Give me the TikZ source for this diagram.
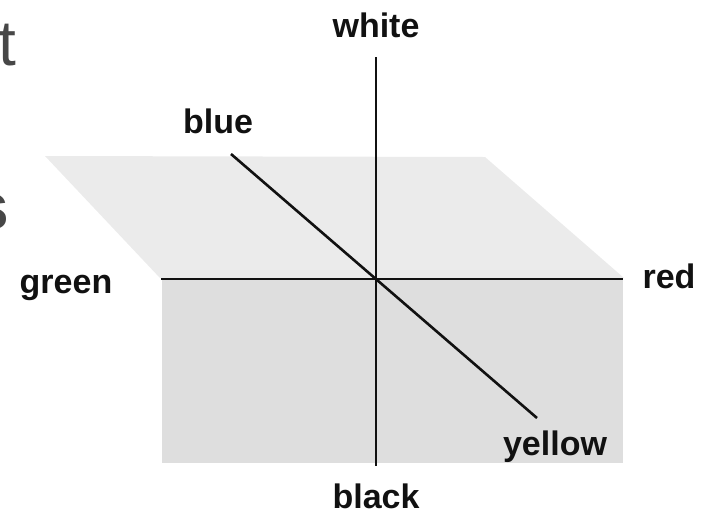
\documentclass[tikz,border=0pt]{standalone}
\usepackage{fontspec}
\setmainfont{Liberation Sans}
\usepackage{xcolor}
\usetikzlibrary{positioning}
\definecolor{PlaneTop}{HTML}{EBEBEB}
\definecolor{PlaneSide}{HTML}{DEDEDE}
\definecolor{AxisInk}{HTML}{111111}
\definecolor{EdgeInk}{HTML}{474747}

\begin{document}
\begin{tikzpicture}[
    x=1pt, y=-1pt,
    axis/.style={
      line width=2.6pt,
      draw=AxisInk,
    },
    axlabel/.style={
      font=\fontsize{34}{38}\selectfont\bfseries,
      text=AxisInk,
      inner sep=0pt,
      anchor=base,
    },
    edgetext/.style={
      text=EdgeInk,
      inner sep=0pt,
      anchor=base west,
    },
  ]
    \useasboundingbox (0,0) rectangle (709,512);
    % letters of the next slide, cut by the page edge
    \node[edgetext, font=\fontsize{64}{70}\selectfont] (cutT) at (-2,65) {t};
    \node[edgetext, font=\fontsize{66}{70}\selectfont\bfseries, anchor=base east] (cutS) at (9,229) {s};
    % the two planes
    \fill[PlaneTop] (45,156) -- (485,157) -- (624,278) -- (160,278) -- cycle;
    \fill[PlaneSide] (162,279) rectangle (623,463);
    % axis ends
    \coordinate (whiteEnd) at (376,57);
    \coordinate (blackEnd) at (376,466);
    \coordinate (greenEnd) at (161,279);
    \coordinate (redEnd) at (623,279);
    \coordinate (blueEnd) at (231,154);
    \coordinate (yellowEnd) at (537,418);
    \draw[axis] (whiteEnd) -- (blackEnd);
    \draw[axis] (greenEnd) -- (redEnd);
    \draw[axis] (blueEnd) -- (yellowEnd);
    % labels
    \node[axlabel] (white) at (376,37) {white};
    \node[axlabel] (blue) at (218,133) {blue};
    \node[axlabel] (green) at (66,293) {green};
    \node[axlabel] (red) at (669,288) {red};
    \node[axlabel] (yellow) at (555,455) {yellow};
    \node[axlabel] (black) at (376,508) {black};
  \end{tikzpicture}
\end{document}
